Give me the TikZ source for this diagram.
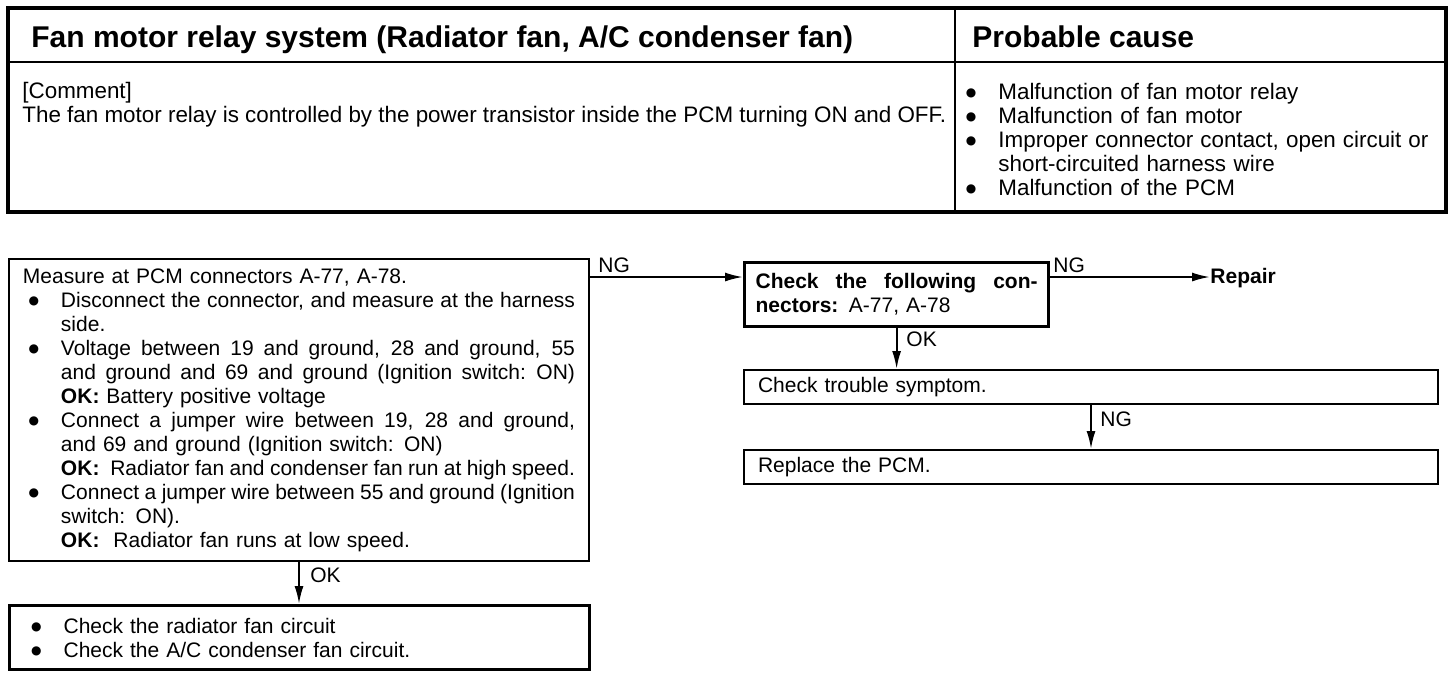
\documentclass[tikz,border=0pt]{standalone}
\usepackage{fontspec}
\setmainfont{Liberation Sans}
\newfontfamily\symfont{DejaVu Sans}
\usetikzlibrary{arrows.meta}

\newlength{\bind}
\setlength{\bind}{19pt}
% bullet set in the indent, left of the text
\newcommand{\bmark}{\makebox[\bind][r]{\raisebox{1.4pt}{\symfont\fontsize{6}{6}\selectfont ●}\hspace{11pt}}}
% justified (full) line and ragged line, indented by \bind, with or without bullet
\newcommand{\jfill}[1]{\hbox to \dimexpr\linewidth-\bind\relax{\spaceskip=.28em plus .6em minus .2em #1}}
\newcommand{\jl}[1]{\noindent\hspace*{\bind}\jfill{#1}\par}
\newcommand{\rl}[1]{\noindent\hspace*{\bind}#1\par}
\newcommand{\bjl}[1]{\noindent\bmark\jfill{#1}\par}
\newcommand{\brl}[1]{\noindent\bmark#1\par}
\newcommand{\ok}{\textbf{OK:}}

\begin{document}
\begin{tikzpicture}[x=0.5pt,y=-0.5pt,font=\fontsize{10.5}{12}\selectfont,
    box/.style={draw,line width=1pt,anchor=north west,inner xsep=7pt,inner ysep=0pt,align=left},
    heavy/.style={box,line width=1.6pt},
    arr/.style={line width=1pt,-{Latex[length=9pt,width=4.5pt]}},
    lbl/.style={inner sep=0pt,anchor=base west},
    head/.style={inner sep=0pt,anchor=base west,font=\fontsize{15}{16}\selectfont\bfseries},
    cell/.style={inner sep=0pt,anchor=north west,align=left,font=\fontsize{11.2}{12}\selectfont}]
  \useasboundingbox (0,0) rectangle (1456,676);
  % --- table: system and probable cause ---
  \draw[line width=1.6pt] (8,8) rectangle (1446,212);
  \draw[line width=0.8pt] (8,62) -- (1446,62);
  \draw[line width=0.8pt] (955,8) -- (955,212);
  \node[head] (sys) at (31,47) {Fan motor relay system (Radiator fan, A/C condenser fan)};
  \node[head] (cause) at (972,47) {Probable cause};
  \node[cell] (comment) at (22,82) {[Comment]\\
    The fan motor relay is controlled by the power transistor inside the PCM turning ON and OFF.};
  \node[cell,text width=230pt] (causes) at (968,83) {\setlength{\bind}{15pt}%
    \brl{Malfunction of fan motor relay}
    \brl{Malfunction of fan motor}
    \bjl{Improper connector contact, open circuit or}
    \rl{short-circuited harness wire}
    \brl{Malfunction of the PCM}};
  % --- flow chart ---
  \node[box,text width=276pt,minimum height=151pt] (meas) at (8,258) {%
    \noindent Measure at PCM connectors A-77, A-78.\par
    \bjl{Disconnect the connector, and measure at the harness}
    \rl{side.}
    \bjl{Voltage between 19 and ground, 28 and ground, 55}
    \jl{and ground and 69 and ground (Ignition switch: ON)}
    \rl{\ok\ Battery positive voltage}
    \bjl{Connect a jumper wire between 19, 28 and ground,}
    \rl{and 69 and ground (Ignition switch: ON)}
    \jl{\ok\ \ Radiator fan and condenser fan run at high speed.}
    \bjl{Connect a jumper wire between 55 and ground (Ignition}
    \rl{switch: ON).}
    \rl{\ok\ \ Radiator fan runs at low speed.}};
  \node[heavy,text width=276pt,minimum height=32pt] (circ) at (8,604) {\setlength{\bind}{20pt}%
    \brl{Check the radiator fan circuit}
    \brl{Check the A/C condenser fan circuit.}};
  \node[heavy,text width=141pt,inner xsep=5.5pt,minimum height=32pt] (chk) at (743,261) {\bfseries\setlength{\bind}{0pt}%
    \jl{Check the following con-}
    \rl{nectors: \mdseries A-77, A-78}};
  \node[box,text width=333pt,minimum height=17pt] (trb) at (743,369) {Check trouble symptom.};
  \node[box,text width=333pt,minimum height=17pt] (rep) at (743,449) {Replace the PCM.};
  \node[lbl,font=\fontsize{10.5}{12}\selectfont\bfseries] (repair) at (1210,283) {Repair};
  \coordinate (ngy) at (0,277);
  \draw[arr] (meas.east |- ngy) -- (chk.west |- ngy);
  \draw[arr] (chk.east |- ngy) -- (repair.west |- ngy);
  \draw[arr] (chk.south) -- (chk.south |- trb.north);
  \draw[arr] (trb.south) -- (trb.south |- rep.north);
  \draw[arr] (meas.south) -- (meas.south |- circ.north);
  \node[lbl] (ngA) at (598,272) {NG};
  \node[lbl] (ngB) at (1053,272) {NG};
  \node[lbl] (okA) at (906,346) {OK};
  \node[lbl] (ngC) at (1100,426) {NG};
  \node[lbl] (okB) at (310,582) {OK};
\end{tikzpicture}
\end{document}
